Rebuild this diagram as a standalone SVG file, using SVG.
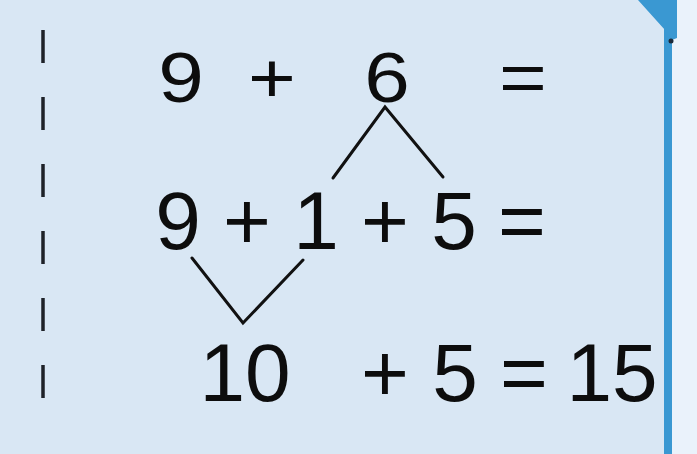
<svg xmlns="http://www.w3.org/2000/svg" width="697" height="454" viewBox="0 0 697 454">
<style>
.t{font-family:"Liberation Sans",Arial,sans-serif;font-size:82px;fill:#0d0d0d;text-anchor:middle}
.c{stroke:#111;stroke-width:3;fill:none;stroke-linecap:round;stroke-linejoin:miter}
</style>
<rect width="697" height="454" fill="#d9e7f4"/>
<rect x="671" y="0" width="26" height="454" fill="#eaf2fb"/>
<g id="border">
<path d="M638,0 L677,0 L677,38 L672,40 L665,30 Z" fill="#3a98d2"/>
<rect x="664" y="28" width="8" height="426" fill="#3a98d2"/>
<circle cx="671" cy="41" r="2.5" fill="#1a2a3a"/>
<line x1="43" y1="30" x2="43" y2="410" stroke="#1e2228" stroke-width="3.5" stroke-dasharray="33 34"/>
</g>
<g id="connectors">
<polyline class="c" points="333,178 385,107 443,177"/>
<polyline class="c" points="192,258 243,323 303,260"/>
</g>
<g id="row1" transform="translate(0,102) scale(1,0.85)">
<text class="t" x="181" y="0">9</text>
<text class="t" x="272" y="0">+</text>
<text class="t" x="387" y="0">6</text>
<text class="t" x="523" y="0">=</text>
</g>
<g id="row2">
<text class="t" x="178" y="249">9</text>
<text class="t" x="247" y="249">+</text>
<text class="t" x="316" y="249">1</text>
<text class="t" x="385" y="249">+</text>
<text class="t" x="454" y="249">5</text>
<text class="t" x="522" y="249">=</text>
</g>
<g id="row3">
<text class="t" x="245" y="401">10</text>
<text class="t" x="385" y="401">+</text>
<text class="t" x="455" y="401">5</text>
<text class="t" x="524" y="401">=</text>
<text class="t" x="612" y="401">15</text>
</g>
</svg>
